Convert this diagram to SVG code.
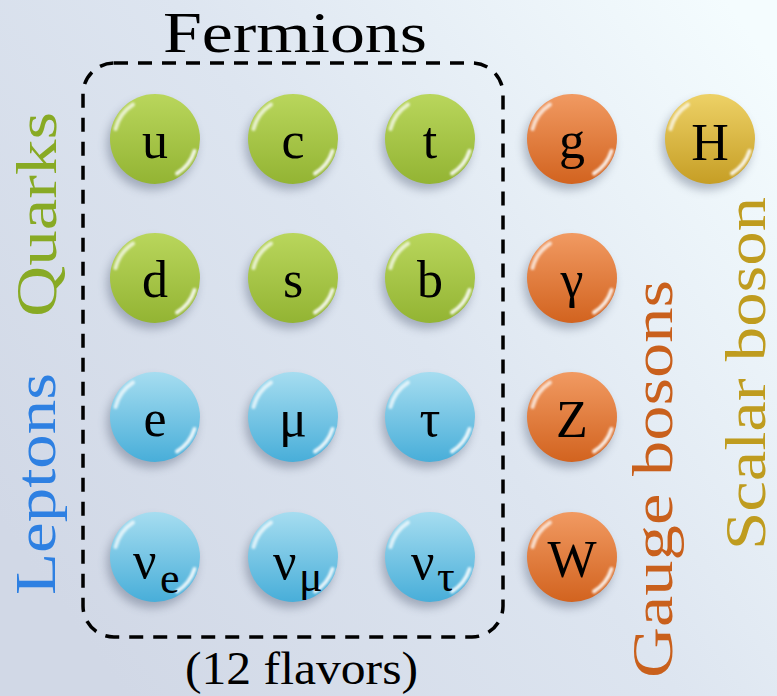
<svg xmlns="http://www.w3.org/2000/svg" xmlns:xlink="http://www.w3.org/1999/xlink" width="777" height="696" viewBox="0 0 777 696">
<defs>
<style>
.t{font-family:"Liberation Serif","DejaVu Serif",serif}
.p{font-family:"Liberation Serif","DejaVu Serif",serif;font-size:52px;fill:#000;text-anchor:middle}
.ps{font-family:"Liberation Serif","DejaVu Serif",serif;font-size:52px;fill:#000}
.big{font-size:58px}
.sh{fill:#3a4660;opacity:0.35;filter:url(#blur5)}
</style>
<linearGradient id="bg" x1="0" y1="0.75" x2="1" y2="0.1">
<stop offset="0" stop-color="#d1d8e6"/>
<stop offset="0.5" stop-color="#dde5f0"/>
<stop offset="1" stop-color="#f4fcfe"/>
</linearGradient>
<linearGradient id="gG" x1="0" y1="0" x2="0" y2="1">
<stop offset="0" stop-color="#b9d65c"/>
<stop offset="1" stop-color="#93b433"/>
</linearGradient>
<linearGradient id="gB" x1="0" y1="0" x2="0" y2="1">
<stop offset="0" stop-color="#a6ddf0"/>
<stop offset="1" stop-color="#48aed9"/>
</linearGradient>
<linearGradient id="gO" x1="0" y1="0" x2="0" y2="1">
<stop offset="0" stop-color="#f19a62"/>
<stop offset="1" stop-color="#d2631f"/>
</linearGradient>
<linearGradient id="gY" x1="0" y1="0" x2="0" y2="1">
<stop offset="0" stop-color="#edd166"/>
<stop offset="1" stop-color="#c69e25"/>
</linearGradient>
<filter id="blur5" x="-50%" y="-50%" width="200%" height="200%"><feGaussianBlur stdDeviation="5"/></filter>
<filter id="blur1" x="-50%" y="-50%" width="200%" height="200%"><feGaussianBlur stdDeviation="1.1"/></filter>
<g id="gloss" fill="none" stroke="#ffffff" stroke-linecap="round" filter="url(#blur1)">
<path d="M -39.5 -10 A 41 41 0 0 1 -22 -34.5" stroke-width="4" opacity="0.7"/>
<path d="M 39.5 12 A 41 41 0 0 1 22 34.5" stroke-width="4" opacity="0.85"/>
</g>
</defs>
<rect width="777" height="696" fill="url(#bg)"/>

<g id="labels">
<text class="t big" x="163" y="52" textLength="264" lengthAdjust="spacingAndGlyphs" fill="#000">Fermions</text>
<text class="t" x="185" y="684" font-size="46" textLength="233" lengthAdjust="spacingAndGlyphs" fill="#000">(12 flavors)</text>
<text class="t big" transform="translate(56,317) rotate(-90)" textLength="205" lengthAdjust="spacingAndGlyphs" fill="#88aa24">Quarks</text>
<text class="t big" transform="translate(55,595) rotate(-90)" textLength="222" lengthAdjust="spacingAndGlyphs" fill="#2e80e2">Leptons</text>
<text class="t big" transform="translate(672,678) rotate(-90)" textLength="398" lengthAdjust="spacingAndGlyphs" fill="#c9601c">Gauge bosons</text>
<text class="t" font-size="56" transform="translate(765,550) rotate(-90)" textLength="353" lengthAdjust="spacingAndGlyphs" fill="#bf9c1f">Scalar boson</text>
</g>

<g id="connectors">
<rect x="83" y="63" width="420" height="574" rx="31" ry="31" fill="none" stroke="#000" stroke-width="3.5" stroke-dasharray="14 10"/>
</g>

<g id="u"><circle class="sh" cx="152" cy="145" r="45"/><circle cx="155" cy="139" r="45" fill="url(#gG)"/><use xlink:href="#gloss" x="155" y="139"/><text class="p" x="155" y="158">u</text></g>
<g id="c"><circle class="sh" cx="290" cy="145" r="45"/><circle cx="293" cy="139" r="45" fill="url(#gG)"/><use xlink:href="#gloss" x="293" y="139"/><text class="p" x="293" y="158">c</text></g>
<g id="t"><circle class="sh" cx="427" cy="145" r="45"/><circle cx="430" cy="139" r="45" fill="url(#gG)"/><use xlink:href="#gloss" x="430" y="139"/><text class="p" x="430" y="158">t</text></g>
<g id="g"><circle class="sh" cx="569" cy="145" r="45"/><circle cx="572" cy="139" r="45" fill="url(#gO)"/><use xlink:href="#gloss" x="572" y="139"/><text class="p" x="572" y="158">g</text></g>
<g id="H"><circle class="sh" cx="707" cy="145" r="45"/><circle cx="710" cy="139" r="45" fill="url(#gY)"/><use xlink:href="#gloss" x="710" y="139"/><text class="p" x="710" y="160">H</text></g>

<g id="d"><circle class="sh" cx="152" cy="284" r="45"/><circle cx="155" cy="278" r="45" fill="url(#gG)"/><use xlink:href="#gloss" x="155" y="278"/><text class="p" x="155" y="297">d</text></g>
<g id="s"><circle class="sh" cx="290" cy="284" r="45"/><circle cx="293" cy="278" r="45" fill="url(#gG)"/><use xlink:href="#gloss" x="293" y="278"/><text class="p" x="293" y="297">s</text></g>
<g id="b"><circle class="sh" cx="427" cy="284" r="45"/><circle cx="430" cy="278" r="45" fill="url(#gG)"/><use xlink:href="#gloss" x="430" y="278"/><text class="p" x="430" y="297">b</text></g>
<g id="gamma"><circle class="sh" cx="569" cy="284" r="45"/><circle cx="572" cy="278" r="45" fill="url(#gO)"/><use xlink:href="#gloss" x="572" y="278"/><text class="p" x="572" y="297">γ</text></g>

<g id="e"><circle class="sh" cx="152" cy="423" r="45"/><circle cx="155" cy="417" r="45" fill="url(#gB)"/><use xlink:href="#gloss" x="155" y="417"/><text class="p" x="155" y="436">e</text></g>
<g id="mu"><circle class="sh" cx="290" cy="423" r="45"/><circle cx="293" cy="417" r="45" fill="url(#gB)"/><use xlink:href="#gloss" x="293" y="417"/><text class="p" x="293" y="436">μ</text></g>
<g id="tau"><circle class="sh" cx="427" cy="423" r="45"/><circle cx="430" cy="417" r="45" fill="url(#gB)"/><use xlink:href="#gloss" x="430" y="417"/><text class="p" x="430" y="436">τ</text></g>
<g id="Z"><circle class="sh" cx="569" cy="423" r="45"/><circle cx="572" cy="417" r="45" fill="url(#gO)"/><use xlink:href="#gloss" x="572" y="417"/><text class="p" x="572" y="437">Z</text></g>

<g id="nu_e"><circle class="sh" cx="152" cy="563" r="45"/><circle cx="155" cy="557" r="45" fill="url(#gB)"/><use xlink:href="#gloss" x="155" y="557"/><text class="ps" x="133" y="578">ν<tspan x="160" y="593" font-size="44">e</tspan></text></g>
<g id="nu_mu"><circle class="sh" cx="290" cy="563" r="45"/><circle cx="293" cy="557" r="45" fill="url(#gB)"/><use xlink:href="#gloss" x="293" y="557"/><text class="ps" x="273" y="579">ν<tspan x="299" y="591" font-size="44">μ</tspan></text></g>
<g id="nu_tau"><circle class="sh" cx="427" cy="563" r="45"/><circle cx="430" cy="557" r="45" fill="url(#gB)"/><use xlink:href="#gloss" x="430" y="557"/><text class="ps" x="411" y="579">ν<tspan x="437" y="591" font-size="44">τ</tspan></text></g>
<g id="W"><circle class="sh" cx="569" cy="563" r="45"/><circle cx="572" cy="557" r="45" fill="url(#gO)"/><use xlink:href="#gloss" x="572" y="557"/><text class="p" x="572" y="577">W</text></g>
</svg>
